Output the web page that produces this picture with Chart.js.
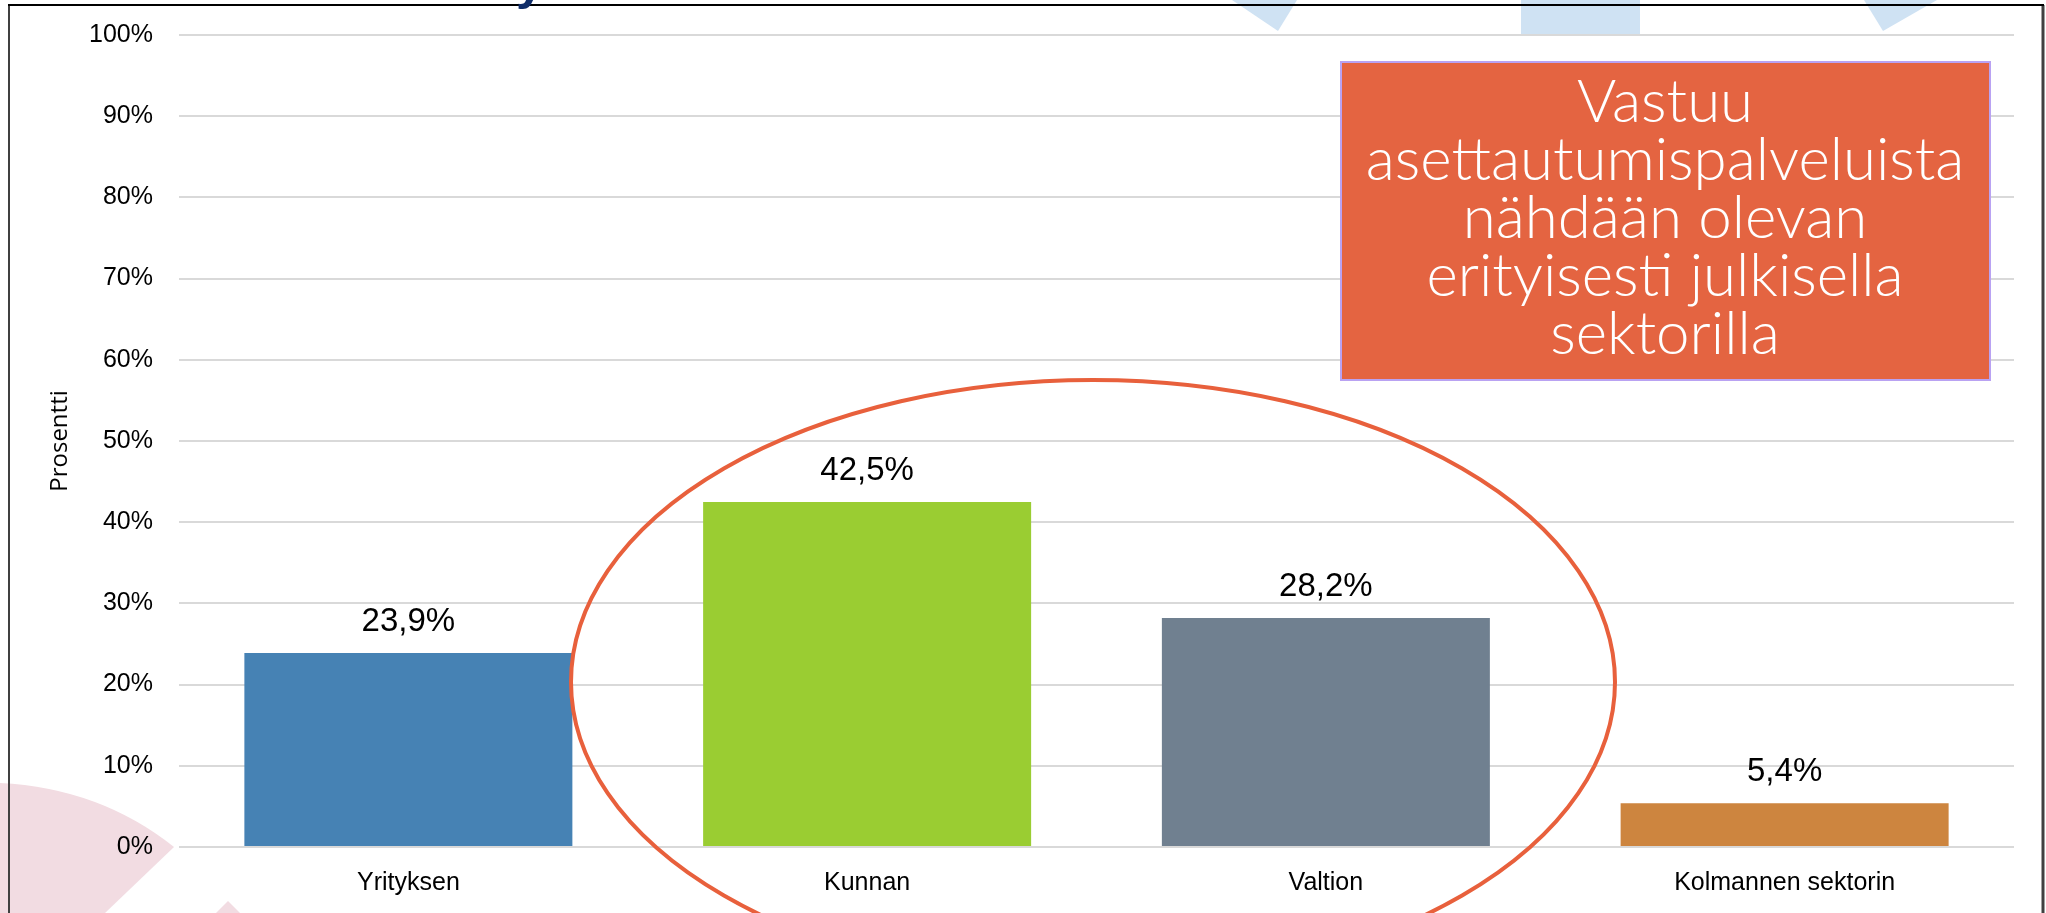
<!DOCTYPE html>
<html>
<head>
<meta charset="utf-8">
<script src="https://cdn.jsdelivr.net/npm/chart.js@4/dist/chart.umd.min.js"></script>
<style>
  html, body { margin: 0; padding: 0; background: #fff; }
  #wrap { width: 2046px; height: 913px; position: relative; }
</style>
</head>
<body>
<div id="wrap"><canvas id="chart"></canvas></div>
<script>
const categories = ['Yrityksen', 'Kunnan', 'Valtion', 'Kolmannen sektorin'];
const values = [23.9, 42.5, 28.2, 5.4];
const barColors = ['#4682B4', '#9ACD32', '#708090', '#CD853F'];
const yTicks = [0, 10, 20, 30, 40, 50, 60, 70, 80, 90, 100];
const axisTitle = 'Prosentti';
const calloutLines = ['Vastuu', 'asettautumispalveluista', 'nähdään olevan', 'erityisesti julkisella', 'sektorilla'];

const fmt = v => v.toFixed(1).replace('.', ',') + '%';

const decor = {
  id: 'decor',
  beforeDraw(chart) {
    const ctx = chart.ctx;
    ctx.save();
    ctx.fillStyle = '#fff';
    ctx.fillRect(0, 0, chart.width, chart.height);

    // faded slide shapes behind the chart
    ctx.fillStyle = '#F2DCE2';
    ctx.beginPath();
    ctx.moveTo(0, 783);
    ctx.quadraticCurveTo(100, 788, 174, 847);
    ctx.lineTo(105, 913);
    ctx.lineTo(0, 913);
    ctx.closePath();
    ctx.fill();
    ctx.beginPath();
    ctx.moveTo(228, 901);
    ctx.lineTo(240, 913);
    ctx.lineTo(216, 913);
    ctx.closePath();
    ctx.fill();

    ctx.fillStyle = '#CFE2F3';
    ctx.beginPath();
    ctx.moveTo(1232, 0);
    ctx.lineTo(1297, 0);
    ctx.lineTo(1278, 31);
    ctx.closePath();
    ctx.fill();
    ctx.fillRect(1521, 0, 119, 34);
    ctx.beginPath();
    ctx.moveTo(1864, 0);
    ctx.lineTo(1937, 0);
    ctx.lineTo(1883, 31);
    ctx.closePath();
    ctx.fill();
    ctx.restore();
  },
  afterDatasetsDraw(chart) {
    const ctx = chart.ctx;
    const meta = chart.getDatasetMeta(0);
    ctx.save();
    ctx.fillStyle = '#000';
    ctx.font = '33px "Liberation Sans", Arial, sans-serif';
    ctx.textAlign = 'center';
    ctx.textBaseline = 'alphabetic';
    meta.data.forEach((bar, i) => {
      ctx.fillText(fmt(values[i]), bar.x, bar.y - 22);
    });
    ctx.restore();
  },
  afterDraw(chart) {
    const ctx = chart.ctx;
    ctx.save();

    // highlight ellipse round the public sector bars
    ctx.strokeStyle = '#E8603C';
    ctx.lineWidth = 4;
    ctx.beginPath();
    ctx.ellipse(1093, 682, 522, 302, 0, 0, Math.PI * 2);
    ctx.stroke();

    // callout box
    ctx.fillStyle = '#E46441';
    ctx.fillRect(1341, 62, 649, 318);
    ctx.strokeStyle = '#B9A2F2';
    ctx.lineWidth = 2;
    ctx.strokeRect(1341, 62, 649, 318);

    ctx.fillStyle = '#fff';
    ctx.textAlign = 'center';
    ctx.textBaseline = 'alphabetic';
    let size = 70;
    const longest = calloutLines.reduce((a, b) => a.length > b.length ? a : b);
    do {
      ctx.font = '300 ' + size + 'px Lato, "Open Sans", sans-serif';
      size -= 1;
    } while (ctx.measureText(longest).width > 600 && size > 20);
    calloutLines.forEach((t, i) => ctx.fillText(t, 1665, 122 + i * 58));

    // chart frame
    ctx.strokeStyle = '#404040';
    ctx.lineWidth = 2;
    ctx.beginPath();
    ctx.moveTo(9, 913);
    ctx.lineTo(9, 5);
    ctx.stroke();
    ctx.lineWidth = 3;
    ctx.beginPath();
    ctx.moveTo(2043, 5);
    ctx.lineTo(2043, 913);
    ctx.stroke();
    ctx.strokeStyle = '#000';
    ctx.lineWidth = 2;
    ctx.beginPath();
    ctx.moveTo(8, 5);
    ctx.lineTo(2044, 5);
    ctx.stroke();

    // tail of the slide title above
    ctx.fillStyle = '#0F2D69';
    ctx.font = 'bold 50px "Liberation Sans", Arial, sans-serif';
    ctx.textAlign = 'left';
    ctx.fillText('y', 516, -1);
    ctx.restore();
  }
};

new Chart(document.getElementById('chart'), {
  type: 'bar',
  data: {
    labels: categories,
    datasets: [{
      data: values,
      backgroundColor: barColors,
      borderWidth: 0,
      barPercentage: 0.715,
      categoryPercentage: 1
    }]
  },
  options: {
    responsive: true,
    maintainAspectRatio: false,
    animation: false,
    devicePixelRatio: 1,
    layout: { padding: { left: 0, top: 35, right: 32, bottom: 0 } },
    plugins: {
      legend: { display: false },
      tooltip: { enabled: false }
    },
    scales: {
      x: {
        grid: { display: false, drawTicks: false },
        border: { display: false },
        ticks: {
          color: '#000',
          padding: 21,
          font: { family: '"Liberation Sans", Arial, sans-serif', size: 25 }
        },
        afterFit(scale) { scale.height = 66; }
      },
      y: {
        min: 0,
        max: 100,
        afterBuildTicks(scale) { scale.ticks = yTicks.map(v => ({ value: v })); },
        grid: { color: '#D9D9D9', lineWidth: 2, drawTicks: false },
        border: { display: false },
        ticks: {
          color: '#000',
          padding: 26,
          font: { family: '"Liberation Sans", Arial, sans-serif', size: 25 },
          callback: v => v + '%'
        },
        title: {
          display: true,
          text: axisTitle,
          color: '#000',
          padding: { top: 46, bottom: 0 },
          font: { family: '"Open Sans", sans-serif', size: 24 }
        },
        afterFit(scale) {
          scale.width = 179;
          scale.paddingTop = 0;
          scale.paddingBottom = 0;
        }
      }
    }
  },
  plugins: [decor]
});
</script>
</body>
</html>
